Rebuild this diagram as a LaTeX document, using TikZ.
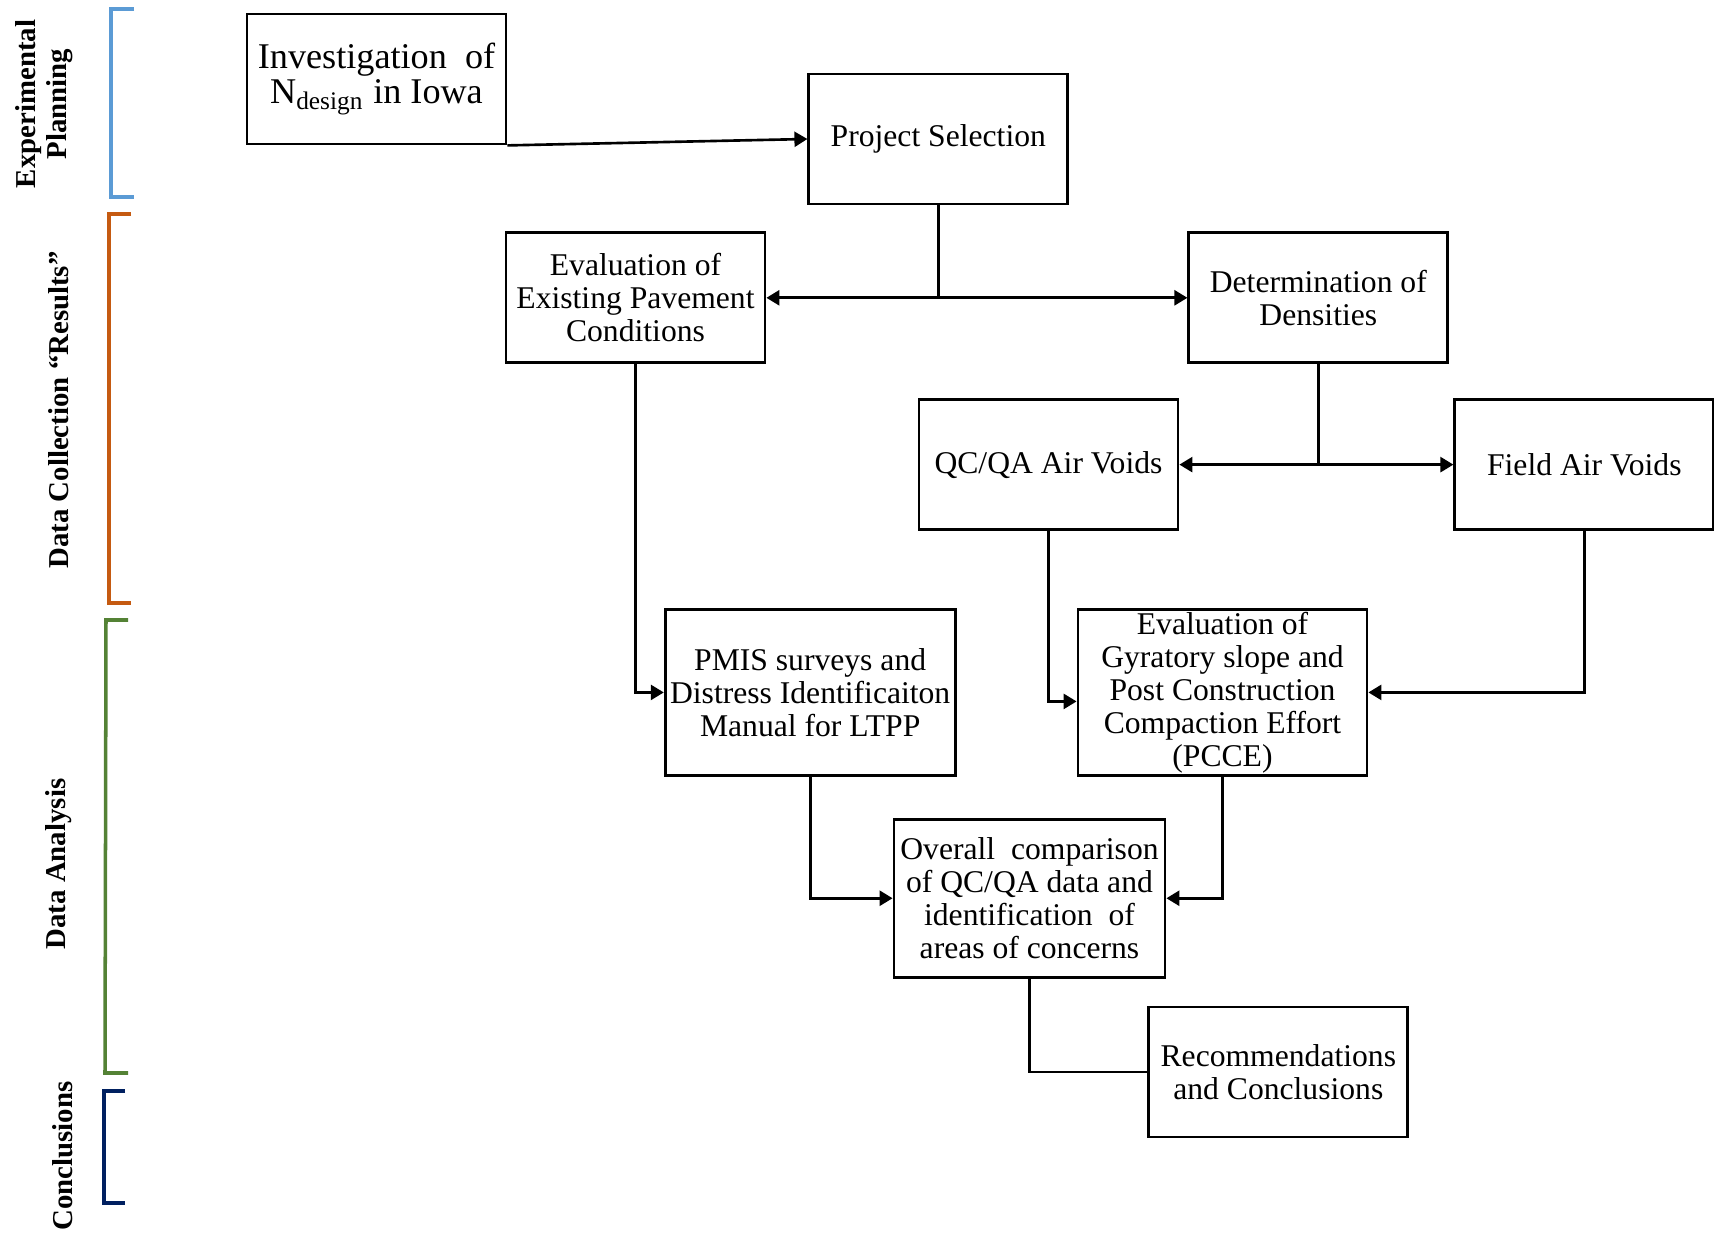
\documentclass[tikz,border=0pt]{standalone}
\usepackage{fontspec}
\setmainfont{Liberation Serif}
\usetikzlibrary{positioning,arrows.meta}
\definecolor{planblue}{HTML}{5B9BD5}
\definecolor{collorange}{HTML}{C55A11}
\definecolor{anagreen}{HTML}{548235}
\definecolor{concnavy}{HTML}{002060}
\tikzset{
  stage/.style={draw, line width=0.8pt, align=center, inner xsep=1pt, inner ysep=0.5pt,
    minimum width=2.59cm, minimum height=1.3cm, font=\fontsize{9}{9.4}\selectfont},
  flow/.style={line width=0.75pt, -{Triangle[length=1.3mm,width=1.5mm]}},
  phaselabel/.style={rotate=90, align=center, font=\fontsize{8.2}{8.8}\selectfont\bfseries},
  phasebar/.style={line width=1pt},
}

\begin{document}
\begin{tikzpicture}
  \useasboundingbox (0,0) rectangle (17.14,-12.33);

  % phases on the left
  \node [phaselabel] (lplan) at (0.44,-1.04) {Experimental\\Planning};
  \draw [phasebar, planblue] (1.34,-0.09) -- (1.11,-0.09) -- (1.11,-1.97) -- (1.34,-1.97);

  \node [phaselabel] (lcoll) at (0.59,-4.10) {Data Collection “Results”};
  \draw [phasebar, collorange] (1.31,-2.14) -- (1.09,-2.14) -- (1.09,-6.03) -- (1.31,-6.03);

  \node [phaselabel] (lana) at (0.59,-8.64) {Data Analysis};
  \draw [phasebar, anagreen] (1.28,-6.20) -- (1.06,-6.20) -- (1.05,-10.73) -- (1.28,-10.73);

  \node [phaselabel] (lconc) at (0.63,-11.56) {Conclusions};
  \draw [phasebar, concnavy] (1.25,-10.91) -- (1.04,-10.91) -- (1.04,-12.03) -- (1.25,-12.03);

  % boxes
  \node [stage, font=\fontsize{10.3}{10.3}\selectfont] (invest) at (3.765,-0.79)
    {\raisebox{-0.4ex}{Investigation\ \ of}\\N\textsubscript{design} in Iowa};
  \node [stage, right=3.00cm of invest, yshift=-0.6cm] (projsel) {Project Selection};
  \node [stage, below left=0.26cm and 0.41cm of projsel] (evalpave)
    {Evaluation of\\Existing Pavement\\Conditions};
  \node [stage, right=4.21cm of evalpave] (density) {Determination of\\Densities};
  \node [stage, below left=0.34cm and 0.08cm of density] (qcqa) {QC/QA Air Voids};
  \node [stage, right=2.74cm of qcqa] (fieldav) {Field Air Voids};
  \node [stage, minimum width=2.89cm, minimum height=1.66cm,
    below left=0.77cm and 0.85cm of fieldav] (gyratory)
    {Evaluation of\\Gyratory slope and\\Post Construction\\Compaction Effort\\(PCCE)};
  \node [stage, minimum width=2.9cm, minimum height=1.66cm, left=1.20cm of gyratory] (pmis)
    {PMIS surveys and\\Distress Identificaiton\\Manual for LTPP};
  \node [stage, minimum width=2.71cm, minimum height=1.58cm,
    below right=0.41cm and -0.64cm of pmis] (overall)
    {Overall\ \ comparison\\of QC/QA data and\\identification\ \ of\\areas of concerns};
  \node [stage, below right=0.27cm and -0.19cm of overall] (recom) {Recommendations\\and Conclusions};

  % connectors
  \draw [flow] (invest.south east) -- (projsel.west);

  \coordinate (splitA) at (projsel.south |- evalpave.east);
  \draw [line width=0.75pt] (projsel.south) -- (splitA);
  \draw [flow] (splitA) -- (evalpave.east);
  \draw [flow] (splitA) -- (density.west);

  \coordinate (splitB) at (density.south |- qcqa.east);
  \draw [line width=0.75pt] (density.south) -- (splitB);
  \draw [flow] (splitB) -- (qcqa.east);
  \draw [flow] (splitB) -- (fieldav.west);

  \draw [flow] (evalpave.south) |- (pmis.west);
  \draw [flow] (qcqa.south) |- ([yshift=-0.09cm]gyratory.west);
  \draw [flow] (fieldav.south) |- (gyratory.east);
  \draw [flow] (pmis.south) |- (overall.west);
  \draw [flow] (gyratory.south) |- (overall.east);
  \draw [line width=0.75pt] (overall.south) |- (recom.west);

\end{tikzpicture}
\end{document}
